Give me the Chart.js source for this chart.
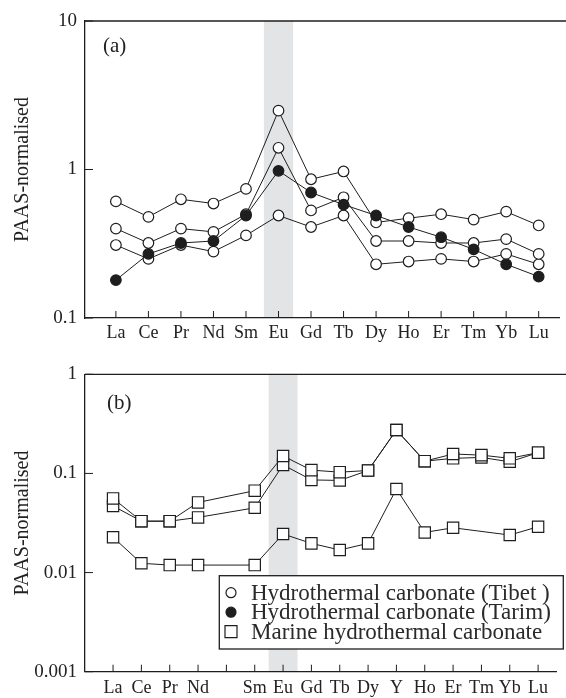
<!DOCTYPE html>
<html>
<head>
<meta charset="utf-8">
<script src="https://cdn.jsdelivr.net/npm/chart.js@4.4.0/dist/chart.umd.min.js"></script>
<style>
  body { margin: 0; background: #fff; }
  .panel { position: absolute; left: 0; width: 566px; height: 349px; }
</style>
</head>
<body>
<div class="panel" style="top:0"><canvas id="chartA" width="566" height="349"></canvas></div>
<div class="panel" style="top:349px"><canvas id="chartB" width="566" height="349"></canvas></div>
<script>
// element order on the x axis; '' marks the empty Pm slot in panel (b)
const elementsA = ['La', 'Ce', 'Pr', 'Nd', 'Sm', 'Eu', 'Gd', 'Tb', 'Dy', 'Ho', 'Er', 'Tm', 'Yb', 'Lu'];
const elementsB = ['La', 'Ce', 'Pr', 'Nd', '', 'Sm', 'Eu', 'Gd', 'Tb', 'Dy', 'Y', 'Ho', 'Er', 'Tm', 'Yb', 'Lu'];

// (a) hydrothermal carbonate, PAAS-normalised
const tibet1 = [0.61, 0.48, 0.63, 0.59, 0.74, 2.49, 0.86, 0.97, 0.44, 0.47, 0.50, 0.46, 0.52, 0.42];
const tibet2 = [0.40, 0.32, 0.40, 0.38, 0.50, 1.40, 0.53, 0.65, 0.33, 0.33, 0.32, 0.32, 0.34, 0.27];
const tibet3 = [0.31, 0.25, 0.31, 0.28, 0.36, 0.49, 0.41, 0.49, 0.23, 0.24, 0.25, 0.24, 0.27, 0.23];
const tarim = [0.18, 0.27, 0.32, 0.33, 0.49, 0.98, 0.70, 0.58, 0.49, 0.41, 0.35, 0.29, 0.23, 0.19];

// (b) marine hydrothermal carbonate
const marine1 = [0.056, 0.033, 0.033, 0.051, null, 0.067, 0.150, 0.108, 0.103, 0.107, 0.274, 0.133, 0.157, 0.153, 0.142, 0.162];
const marine2 = [0.047, 0.033, 0.033, 0.036, null, 0.045, 0.122, 0.086, 0.085, 0.107, 0.274, 0.133, 0.142, 0.145, 0.131, 0.162];
const marine3 = [0.0227, 0.0124, 0.0119, 0.0119, null, 0.0119, 0.0245, 0.0197, 0.0169, 0.0197, 0.0697, 0.0254, 0.0283, null, 0.0239, 0.029];

const ticksA = [0.1, 1, 10];
const ticksB = [0.001, 0.01, 0.1, 1];
const legendLabels = ['Hydrothermal carbonate (Tibet )', 'Hydrothermal carbonate (Tarim)', 'Marine hydrothermal carbonate'];

const INK = '#1e1e1e';
const SERIF = "'Liberation Serif', 'Times New Roman', serif";

Chart.defaults.font.family = SERIF;
Chart.defaults.color = '#222';
Chart.defaults.animation = false;

function toPoints(values) {
    return values.map((v, i) => ({ x: i, y: v }));
}

function series(label, values, style, filled, order) {
    return {
        label: label,
        data: toPoints(values),
        order: order,
        borderColor: INK,
        borderWidth: 1,
        spanGaps: true,
        pointStyle: style,
        pointRadius: style === 'rect' ? 8 : 5.3,
        pointHoverRadius: style === 'rect' ? 8 : 5.3,
        pointBorderWidth: 1.2,
        pointBorderColor: INK,
        pointBackgroundColor: filled ? INK : '#fff'
    };
}

// Eu band, frame top line, inward tick marks, panel tag and legend box
const frame = {
    id: 'frame',
    beforeDraw(chart, args, opts) {
        const { ctx, chartArea: a, scales: { x } } = chart;
        const l = x.getPixelForValue(opts.band - opts.bandHalf);
        const r = x.getPixelForValue(opts.band + opts.bandHalf);
        ctx.save();
        ctx.fillStyle = '#e3e4e6';
        ctx.fillRect(l, a.top, r - l, a.bottom - a.top);
        ctx.restore();
    },
    afterDraw(chart, args, opts) {
        const { ctx, chartArea: a, scales: { x, y } } = chart;
        ctx.save();
        ctx.strokeStyle = INK;
        ctx.lineWidth = 1.3;
        ctx.beginPath();
        ctx.moveTo(a.left, a.top);
        ctx.lineTo(chart.width, a.top);
        ctx.stroke();

        ctx.lineWidth = 1;
        ctx.beginPath();
        x.ticks.forEach(t => {
            const px = x.getPixelForValue(t.value);
            ctx.moveTo(px, a.bottom);
            ctx.lineTo(px, a.bottom - 7);
        });
        y.ticks.forEach(t => {
            const py = y.getPixelForValue(t.value);
            ctx.moveTo(a.left, py);
            ctx.lineTo(a.left + 8, py);
        });
        ctx.stroke();

        ctx.fillStyle = '#222';
        ctx.font = '21px ' + SERIF;
        ctx.textBaseline = 'middle';
        ctx.fillText(opts.tag, a.left + opts.tagDx, a.top + opts.tagDy);

        if (opts.legend) {
            const L = opts.legend;
            ctx.fillStyle = '#fff';
            ctx.fillRect(L.left, L.top, L.right - L.left, L.bottom - L.top);
            ctx.strokeStyle = INK;
            ctx.lineWidth = 1.3;
            ctx.strokeRect(L.left, L.top, L.right - L.left, L.bottom - L.top);
            ctx.font = '23px ' + SERIF;
            ctx.textBaseline = 'alphabetic';
            legendLabels.forEach((text, i) => {
                const base = L.top + 24 + i * 19.5;
                const my = base - 7;
                ctx.lineWidth = 1.2;
                ctx.strokeStyle = INK;
                ctx.beginPath();
                if (i < 2) {
                    ctx.arc(L.markX, my, 5, 0, Math.PI * 2);
                    ctx.fillStyle = i === 1 ? INK : '#fff';
                    ctx.fill();
                    ctx.stroke();
                } else {
                    ctx.rect(L.markX - 6, my - 6, 12, 12);
                    ctx.fillStyle = '#fff';
                    ctx.fill();
                    ctx.stroke();
                }
                ctx.fillStyle = '#2a2a2a';
                ctx.fillText(text, L.textX, base);
            });
        }
        ctx.restore();
    }
};

function axes(names, xMin, xMax, yMin, yMax, yTicks, xHeight, xPad) {
    return {
        x: {
            type: 'linear',
            min: xMin,
            max: xMax,
            grid: { display: false, drawTicks: false },
            border: { color: INK, width: 1.3 },
            afterBuildTicks: s => { s.ticks = names.map((_, i) => ({ value: i })); },
            afterFit: s => { s.height = xHeight; },
            ticks: {
                autoSkip: false,
                maxRotation: 0,
                padding: xPad,
                color: '#222',
                font: { size: 18 },
                callback: v => names[v] ?? ''
            }
        },
        y: {
            type: 'logarithmic',
            min: yMin,
            max: yMax,
            grid: { display: false, drawTicks: false },
            border: { color: INK, width: 1.3 },
            afterBuildTicks: s => { s.ticks = yTicks.map(v => ({ value: v })); },
            afterFit: s => { s.width = 85; },
            ticks: {
                padding: 8,
                color: '#222',
                font: { size: 19 },
                callback: v => String(v)
            },
            title: {
                display: true,
                text: 'PAAS-normalised',
                color: '#222',
                font: { size: 20 },
                padding: { top: 11, bottom: 0 }
            }
        }
    };
}

new Chart(document.getElementById('chartA'), {
    type: 'line',
    data: {
        datasets: [
            series('Tibet 1', tibet1, 'circle', false, 1),
            series('Tibet 2', tibet2, 'circle', false, 1),
            series('Tibet 3', tibet3, 'circle', false, 1),
            series('Tarim', tarim, 'circle', true, 0)
        ]
    },
    options: {
        responsive: false,
        layout: { padding: { top: 21, left: 0, right: 0, bottom: 0 } },
        scales: axes(elementsA, -0.95, 13.64, 0.1, 10, ticksA, 31, 4),
        plugins: {
            legend: { display: false },
            tooltip: { enabled: false },
            frame: { band: 5, bandHalf: 0.45, tag: '(a)', tagDx: 18, tagDy: 25 }
        }
    },
    plugins: [frame]
});

new Chart(document.getElementById('chartB'), {
    type: 'line',
    data: {
        datasets: [
            series('Marine 1', marine1, 'rect', false, 0),
            series('Marine 2', marine2, 'rect', false, 0),
            series('Marine 3', marine3, 'rect', false, 0)
        ]
    },
    options: {
        responsive: false,
        layout: { padding: { top: 25.3, left: 0, right: 0, bottom: 0 } },
        scales: axes(elementsB, -0.99, 15.66, 0.001, 1, ticksB, 26.3, 5.5),
        plugins: {
            legend: { display: false },
            tooltip: { enabled: false },
            frame: {
                band: 6, bandHalf: 0.51, tag: '(b)', tagDx: 22, tagDy: 29,
                legend: { left: 219.3, top: 226.7, right: 563.3, bottom: 300, markX: 231, textX: 251 }
            }
        }
    },
    plugins: [frame]
});
</script>
</body>
</html>
